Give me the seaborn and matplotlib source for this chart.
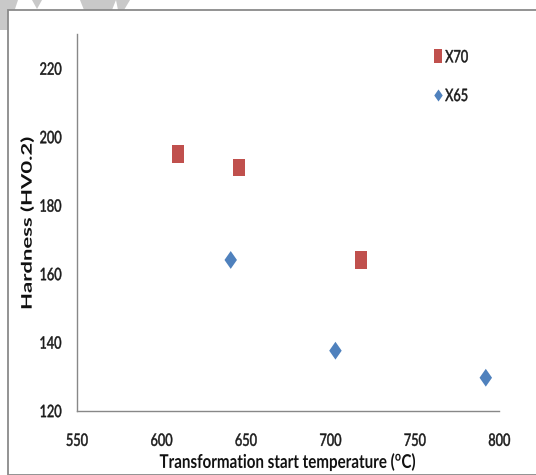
import matplotlib
matplotlib.use("Agg")
import matplotlib.pyplot as plt
from matplotlib.path import Path
from matplotlib.patches import Rectangle, Polygon
from matplotlib.lines import Line2D
from matplotlib.patheffects import AbstractPathEffect
from matplotlib.transforms import Affine2D
import pandas as pd
import seaborn as sns

# Hardness vs. transformation start temperature for two pipeline steels
x70_temp = [610, 646, 718]
x70_hardness = [195, 191, 164]
x65_temp = [641, 703, 792]
x65_hardness = [164, 137.5, 129.6]
grades = ["X70", "X65"]
x_ticks = [550, 600, 650, 700, 750, 800]
y_ticks = [120, 140, 160, 180, 200, 220]

df = pd.DataFrame({
    "temp": x70_temp + x65_temp,
    "hardness": x70_hardness + x65_hardness,
    "grade": ["X70"] * len(x70_temp) + ["X65"] * len(x65_temp),
})

sns.set_theme(style="white")
plt.rcParams["font.family"] = ["Lato", "DejaVu Sans"]


class Squeeze(AbstractPathEffect):
    """Draw text glyphs narrowed (sx) or flattened (sy) about their own centre,
    optionally with a thin outline to thicken the strokes."""

    def __init__(self, sx=1.0, sy=1.0, stroke=0.0):
        super().__init__()
        self.sx, self.sy, self.stroke = sx, sy, stroke

    def draw_path(self, renderer, gc, tpath, affine, rgbFace=None):
        ext = tpath.get_extents()
        cx, cy = (ext.x0 + ext.x1) / 2, (ext.y0 + ext.y1) / 2
        tr = Affine2D().translate(-cx, -cy).scale(self.sx, self.sy).translate(cx, cy) + affine
        if self.stroke > 0 and rgbFace is not None:
            gc0 = renderer.new_gc()
            gc0.copy_properties(gc)
            gc0.set_linewidth(self.stroke)
            gc0.set_foreground(rgbFace)
            gc0.set_joinstyle("round")
            renderer.draw_path(gc0, tpath, tr, rgbFace)
            gc0.restore()
        else:
            renderer.draw_path(gc, tpath, tr, rgbFace)


W, H = 536, 475
DPI = 100
PT = DPI / 72.0
fig = plt.figure(figsize=(W / DPI, H / DPI), dpi=DPI)


def px(x, y):
    """pixel (from top-left) -> figure fraction"""
    return x / W, 1 - y / H


# faint grey shapes peeking out behind the chart frame
wm = "#c9c9c9"
for poly in [
    [(0, 0), (18, 0), (8, 30), (0, 30)],
    [(32, 0), (42, 0), (37, 9)],
    [(80, 0), (116, 0), (112, 10), (84, 10)],
    [(116, 0), (130, 0), (124, 10), (118, 10)],
]:
    fig.patches.append(Polygon([px(*p) for p in poly], closed=True, transform=fig.transFigure,
                               facecolor=wm, edgecolor="none", zorder=0))

# chart frame
fx, fy = px(8, 10)
fig.patches.append(Rectangle((fx, 0), 1.2 - fx, fy, transform=fig.transFigure,
                             facecolor="white", edgecolor="#8a8a8a", linewidth=1.3, zorder=1))

l, t = px(77, 34)
r, b = px(499.3, 410.6)
ax = fig.add_axes([l, b, r - l, t - b])
ax.set_zorder(2)
ax.patch.set_alpha(0)

sq = Path([(-0.33, -0.5), (0.33, -0.5), (0.33, 0.5), (-0.33, 0.5), (-0.33, -0.5)],
          [Path.MOVETO, Path.LINETO, Path.LINETO, Path.LINETO, Path.CLOSEPOLY])
dm = Path([(0, -0.5), (0.35, 0), (0, 0.5), (-0.35, 0), (0, -0.5)],
          [Path.MOVETO, Path.LINETO, Path.LINETO, Path.LINETO, Path.CLOSEPOLY])
palette = {"X70": "#c0504d", "X65": "#4f81bd"}
markers = {"X70": sq, "X65": dm}

sns.scatterplot(data=df, x="temp", y="hardness", hue="grade", style="grade",
                hue_order=grades, style_order=grades, palette=palette,
                markers=markers, s=165, linewidth=0, legend=False, ax=ax)

ax.set_xlim(550, 800)
ax.set_ylim(120, 230)
ax.set_xticks(x_ticks)
ax.set_yticks(y_ticks)

spine_c = "#888888"
for side in ["top", "right"]:
    ax.spines[side].set_visible(False)
for side in ["left", "bottom"]:
    ax.spines[side].set_color(spine_c)
    ax.spines[side].set_linewidth(1.0)

TICK_PT = 12.3
ax.tick_params(axis="both", which="major", direction="out", length=5, width=1,
               color=spine_c, labelcolor="#1a1a1a", labelsize=TICK_PT)

ax.set_xlabel(r"Transformation start temperature ($^{\mathregular{o}}$C)",
              fontsize=13.6, fontweight="bold", color="#111111")
ax.xaxis.label.set_va("baseline")
ax.xaxis.set_label_coords(0.5, -0.1524)

ax.set_ylabel("Hardness (HV0.2)", fontsize=10, fontweight="bold", color="#111111")
ax.yaxis.label.set_va("center")
ax.yaxis.set_label_coords(-0.118, 0.497)

fig.canvas.draw()
rend = fig.canvas.get_renderer()

# condensed look for the horizontal texts: fit the printed widths
w_tick = ax.get_yticklabels()[-1].get_window_extent(rend).width      # "220"
sx_tick = 22.0 / w_tick
for lab in ax.get_xticklabels() + ax.get_yticklabels():
    lab.set_path_effects([Squeeze(sx=sx_tick, stroke=0.35)])
shift = (1 - sx_tick) * w_tick / 2
ax.tick_params(axis="y", pad=max(0.5, (72 - 63.5 - shift) / PT))
ax.tick_params(axis="x", pad=11)

w_xl = ax.xaxis.label.get_window_extent(rend).width
ax.xaxis.label.set_path_effects([Squeeze(sx=257.0 / w_xl)])

# y label: full length along the axis, flattened glyph height
h_yl = ax.yaxis.label.get_window_extent(rend).height
yl_pt = 10 * 174.0 / h_yl
ax.yaxis.label.set_fontsize(yl_pt)
ax.yaxis.label.set_path_effects([Squeeze(sy=10.5 / (0.72 * yl_pt * PT))])

handles = [
    Line2D([], [], linestyle="none", marker=sq, markersize=9.5, color=palette["X70"], markeredgewidth=0),
    Line2D([], [], linestyle="none", marker=dm, markersize=8.7, color=palette["X65"], markeredgewidth=0),
]
leg = ax.legend(handles, grades, loc="upper left", bbox_to_anchor=(0.823, 0.982), frameon=False,
                fontsize=TICK_PT, handlelength=0.6, handletextpad=-0.12, labelspacing=1.33, borderpad=0,
                labelcolor="#1a1a1a")
for txt in leg.get_texts():
    txt.set_path_effects([Squeeze(sx=sx_tick, stroke=0.35)])

fig.savefig("out.png", dpi=DPI)
